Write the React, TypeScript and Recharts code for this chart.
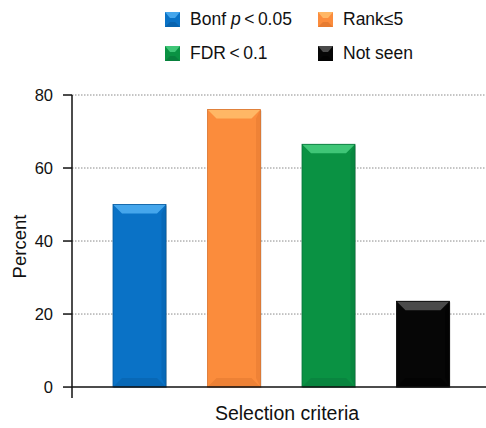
import {
  BarChart,
  Bar,
  XAxis,
  YAxis,
  CartesianGrid,
  ReferenceLine,
  Cell,
} from 'recharts'

const categories = ['Bonf', 'Rank', 'FDR', 'Not seen']
const percents = [50, 76, 66.5, 23.5]
const yTicks = [0, 20, 40, 60, 80]
const gridValues = [20, 40, 60, 80]

// base / light bevel / dark bevel
const colors: Record<string, [string, string, string]> = {
  Bonf: ['#0a72c6', '#45a6ec', '#065a9e'],
  Rank: ['#fb8c3c', '#ffb765', '#d9702a'],
  FDR: ['#0a9243', '#3fc677', '#07743a'],
  'Not seen': ['#060606', '#4a4a4a', '#000000'],
}

const data = categories.map((name, i) => ({ name, value: percents[i] }))

const font = '"Liberation Sans", Arial, Helvetica, sans-serif'

function BevelBar(props: any) {
  const { x, y, width: w, height: h, payload } = props
  if (!h || h <= 0) return null
  const [base, light, dark] = colors[payload.name]
  const b = Math.min(9, h / 3)
  return (
    <g>
      <rect x={x + 1} y={y + 1} width={w} height={h} fill="rgba(0,0,0,0.18)" />
      <rect x={x} y={y} width={w} height={h} fill={base} />
      <polygon
        points={`${x},${y} ${x + w},${y} ${x + w - b},${y + b} ${x + b},${y + b}`}
        fill={light}
      />
      <polygon
        points={`${x},${y + h} ${x + w},${y + h} ${x + w - b},${y + h - b} ${x + b},${y + h - b}`}
        fill={dark}
        opacity={0.4}
      />
      <polygon
        points={`${x + w},${y} ${x + w},${y + h} ${x + w - b / 2},${y + h - b} ${x + w - b / 2},${y + b}`}
        fill={dark}
        opacity={0.35}
      />
      <rect x={x} y={y} width={w} height={h} fill="none" stroke={dark} strokeWidth={0.8} />
    </g>
  )
}

function Swatch({ name }: { name: string }) {
  const [base, light, dark] = colors[name]
  return (
    <svg width={15} height={15} style={{ marginRight: 10, flex: 'none' }}>
      <rect x={0} y={0} width={15} height={15} fill={base} />
      <polygon points="0,0 15,0 10,6 5,6" fill={light} />
      <polygon points="0,15 15,15 10,10 5,10" fill={dark} opacity={0.6} />
    </svg>
  )
}

const legendItems: { key: string; label: any }[] = [
  { key: 'Bonf', label: <>Bonf <i>p</i>{'\u2009'}&lt;{'\u2009'}0.05</> },
  { key: 'Rank', label: <>Rank≤5</> },
  { key: 'FDR', label: <>FDR{'\u2009'}&lt;{'\u2009'}0.1</> },
  { key: 'Not seen', label: <>Not seen</> },
]

function Legend() {
  return (
    <div
      style={{
        position: 'absolute',
        left: 165,
        top: 9,
        display: 'grid',
        gridTemplateColumns: '153px 140px',
        rowGap: 13,
        fontFamily: font,
        fontSize: 17.5,
        color: '#111',
      }}
    >
      {legendItems.map((it) => (
        <div key={it.key} style={{ display: 'flex', alignItems: 'center', height: 21, whiteSpace: 'nowrap' }}>
          <Swatch name={it.key} />
          <span>{it.label}</span>
        </div>
      ))}
    </div>
  )
}

export default function App() {
  return (
    <div style={{ position: 'absolute', left: 0, top: 0, width: 486, height: 428, background: '#fff' }}>
      <BarChart
        width={486}
        height={428}
        data={data}
        margin={{ top: 95, right: 0, bottom: 0, left: 0 }}
        style={{ fontFamily: font }}
      >
        <CartesianGrid
          vertical={false}
          horizontalValues={gridValues}
          stroke="#8a8a8a"
          strokeDasharray="1.5 1.5"
        />
        <XAxis
          dataKey="name"
          tick={false}
          tickLine={false}
          axisLine={false}
          height={30}
          padding={{ left: 20, right: 16 }}
          label={{
            value: 'Selection criteria',
            position: 'insideBottom',
            offset: 8,
            dx: 8,
            fill: '#111',
            fontSize: 19.5,
          }}
        />
        <YAxis
          width={72}
          domain={[-3, 80]}
          ticks={yTicks}
          allowDataOverflow
          tickSize={9}
          tickMargin={10}
          tick={{ fill: '#111', fontSize: 16.5 }}
          tickLine={{ stroke: '#111', strokeWidth: 1.5 }}
          axisLine={{ stroke: '#111', strokeWidth: 1.5 }}
          label={{
            value: 'Percent',
            angle: -90,
            position: 'insideLeft',
            offset: 19,
            fill: '#111',
            fontSize: 18.5,
            style: { textAnchor: 'middle' },
          }}
        />
        <ReferenceLine y={0} stroke="#111" strokeWidth={1.5} ifOverflow="extendDomain" />
        <Bar dataKey="value" barSize={53} isAnimationActive={false} shape={<BevelBar />}>
          {data.map((d) => (
            <Cell key={d.name} fill={colors[d.name][0]} />
          ))}
        </Bar>
      </BarChart>
      <Legend />
    </div>
  )
}
